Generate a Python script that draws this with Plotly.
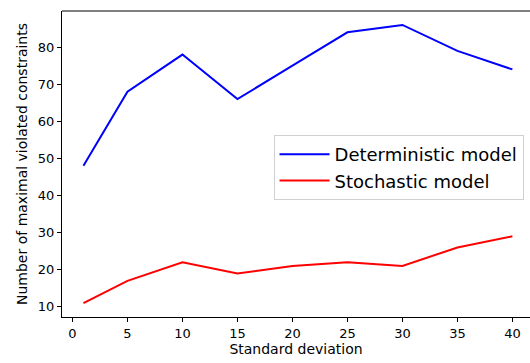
import plotly.graph_objects as go

std_dev = [1, 5, 10, 15, 20, 25, 30, 35, 40]
deterministic = [48, 68, 78, 66, 75, 84, 86, 79, 74]
stochastic = [11, 17, 22, 19, 21, 22, 21, 26, 29]
x_ticks = [0, 5, 10, 15, 20, 25, 30, 35, 40]
y_ticks = [10, 20, 30, 40, 50, 60, 70, 80]

FONT = "DejaVu Sans"

fig = go.Figure()
fig.add_trace(go.Scatter(x=std_dev, y=deterministic, mode="lines",
                         name="Deterministic model",
                         line=dict(color="#0000ff", width=2)))
fig.add_trace(go.Scatter(x=std_dev, y=stochastic, mode="lines",
                         name="Stochastic model",
                         line=dict(color="#ff0000", width=2)))

fig.update_layout(
    width=530, height=363,
    margin=dict(l=62, r=0, t=11, b=46),
    paper_bgcolor="white", plot_bgcolor="white",
    font=dict(family=FONT, color="black", size=12),
    showlegend=True,
    legend=dict(
        x=0.452, y=0.595, xanchor="left", yanchor="top",
        font=dict(family=FONT, size=18, color="black"),
        bgcolor="white", bordercolor="#d0d0d0", borderwidth=1,
        tracegroupgap=0, itemwidth=50,
    ),
    xaxis=dict(
        range=[-0.95, 41.6], tickvals=x_ticks,
        showgrid=False, zeroline=False,
        showline=True, linecolor="black", linewidth=1,
        ticks="outside", ticklen=4, tickcolor="black",
        tickfont=dict(size=13),
        title=dict(text="Standard deviation", font=dict(size=14), standoff=4),
    ),
    yaxis=dict(
        range=[7.25, 89.75], tickvals=y_ticks,
        showgrid=False, zeroline=False,
        showline=True, linecolor="black", linewidth=1,
        ticks="outside", ticklen=4, tickcolor="black",
        tickfont=dict(size=13),
        title=dict(text="Number of maximal violated constraints",
                   font=dict(size=14), standoff=6),
    ),
    shapes=[dict(type="line", xref="paper", yref="paper",
                 x0=0, x1=1, y0=1, y1=1,
                 line=dict(color="black", width=1))],
)

fig.write_html("out.html")
